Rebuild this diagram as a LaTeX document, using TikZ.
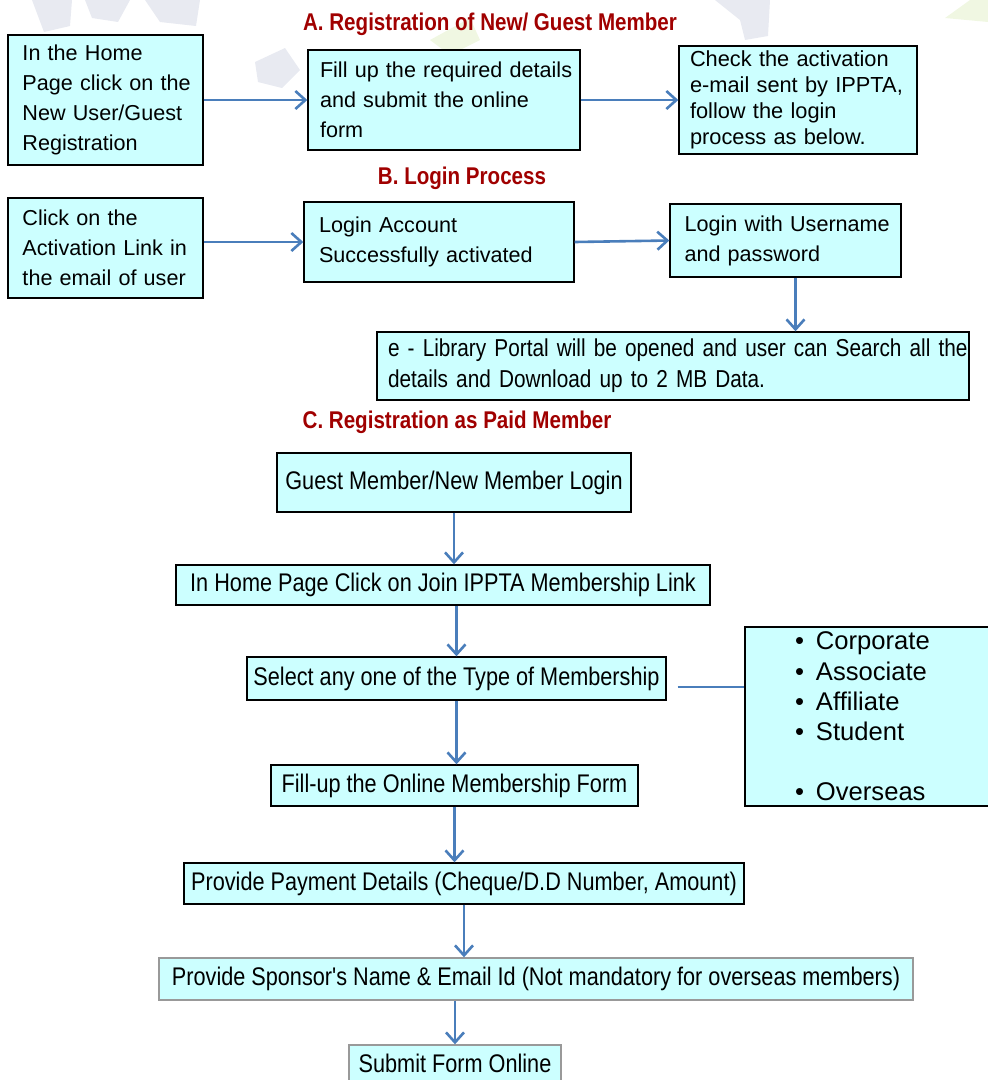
\documentclass[tikz,border=0pt]{standalone}
\usepackage{fontspec}
\setmainfont{Liberation Sans}
\newfontfamily\narrowfont[FakeStretch=0.85]{Liberation Sans}
\usetikzlibrary{arrows.meta, positioning, calc}
\definecolor{boxfill}{RGB}{204,255,255}
\definecolor{linkblue}{RGB}{74,126,187}
\definecolor{headred}{RGB}{160,0,0}
\definecolor{ghost}{RGB}{232,234,241}
\definecolor{ghostgreen}{RGB}{240,247,226}
\newcommand{\memitem}[1]{\makebox[21pt][l]{\textbullet}#1}
\hyphenpenalty=10000

\begin{document}
\begin{tikzpicture}[
          x=1pt, y=-1pt,
          stepbox/.style={draw=black, line width=1.4pt, fill=boxfill, inner sep=0pt},
          ablock/.style={stepbox, align=left, font=\fontsize{21.6}{30}\selectfont},
          cblock/.style={stepbox, align=center, font=\narrowfont\fontsize{25.5}{31}\selectfont},
          greybox/.style={draw=black!40},
          heading/.style={text=headred, font=\narrowfont\bfseries\fontsize{24.2}{28}\selectfont},
          link/.style={draw=linkblue, line width=2.6pt, -{Straight Barb[length=10pt,width=18pt]}},
          >=Stealth
        ]
        \useasboundingbox (0,0) rectangle (988,1080);
        % faint marks of the page background
        \fill[ghost] (32,0) -- (72,0) -- (70,26) -- (44,32) -- cycle;
        \fill[ghost] (85,0) -- (130,0) -- (118,22) -- (92,18) -- cycle;
        \fill[ghost] (145,0) -- (200,0) -- (196,26) -- (160,22) -- cycle;
        \fill[ghost] (255,62) -- (285,48) -- (300,70) -- (282,88) -- (258,82) -- cycle;
        \fill[ghost] (715,0) -- (770,0) -- (768,36) -- (745,40) -- (740,20) -- cycle;
        \fill[ghostgreen] (430,40) -- (470,18) -- (480,40) -- (450,55) -- cycle;
        \fill[ghostgreen] (945,18) -- (970,0) -- (988,0) -- (988,22) -- cycle;

        % A. registration of a new or guest member
        \node[heading] (titleA) at (490,24) {A. Registration of New/ Guest Member};
        \node[ablock, minimum width=195pt, minimum height=130pt, text width=166pt] (homepage) at (105.5,100)
          {In the Home\\ \mbox{Page click on the}\\ New User/Guest\\ Registration};
        \node[ablock, minimum width=272pt, minimum height=100pt, text width=248pt] (fillform) at (444,100)
          {\mbox{Fill up the required details}\\ and submit the online\\ form};
        \node[ablock, minimum width=238pt, minimum height=108pt, text width=216pt,
              font=\fontsize{21.8}{25.8}\selectfont] (checkmail) at (798,100)
          {Check the activation\\ \mbox{e-mail sent by IPPTA,}\\ follow the login\\ process as below.};
        \draw[link] (homepage.east) -- (fillform.west);
        \draw[link] (fillform.east) -- (checkmail.west);

        % B. login process
        \node[heading] (titleB) at (462,178) {B. Login Process};
        \node[ablock, minimum width=195pt, minimum height=100pt, text width=166pt] (actlink) at (105.5,248)
          {Click on the\\ \mbox{Activation Link in}\\ \mbox{the email of user}};
        \node[ablock, minimum width=270pt, minimum height=80pt, text width=240pt] (activated) at (439,242)
          {Login Account\\ Successfully activated};
        \node[ablock, minimum width=231pt, minimum height=73pt, text width=202pt] (loginuser) at (785.5,240.5)
          {\mbox{Login with Username}\\ and password};
        \node[ablock, minimum width=592pt, minimum height=68pt, text width=570pt,
              font=\narrowfont\fontsize{24.45}{31}\selectfont] (elibrary) at (673,366)
          {\mbox{e - Library Portal will be opened and user can Search all the}\\ details and Download up to 2 MB Data.};
        \draw[link] (actlink.east |- activated.west) -- (activated.west);
        \draw[link] (activated.east) -- (loginuser.west);
        \draw[link] ([xshift=10pt]loginuser.south) -- ([xshift=10pt]loginuser.south |- elibrary.north);

        % C. registration as paid member
        \node[heading] (titleC) at (457,422) {C. Registration as Paid Member};
        \node[cblock, minimum width=354pt, minimum height=59pt] (guestlogin) at (454,482.5)
          {Guest Member/New Member Login};
        \node[cblock, minimum width=534pt, minimum height=40pt] (joinlink) at (443,585)
          {In Home Page Click on Join IPPTA Membership Link};
        \node[cblock, minimum width=419pt, minimum height=43pt] (selecttype) at (456.5,678.5)
          {Select any one of the Type of Membership};
        \node[stepbox, minimum width=250pt, minimum height=179pt, text width=150pt, align=left,
              font=\fontsize{25.6}{30.2}\selectfont] (types) at (870,716.5)
          {\memitem{Corporate}\\ \memitem{Associate}\\ \memitem{Affiliate}\\ \memitem{Student}\\[30.2pt] \memitem{Overseas}};
        \node[cblock, minimum width=367pt, minimum height=41pt] (onlineform) at (454.5,785.5)
          {Fill-up the Online Membership Form};
        \node[cblock, minimum width=560pt, minimum height=41pt] (payment) at (464,883.5)
          {Provide Payment Details (Cheque/D.D Number, Amount)};
        \node[cblock, greybox, minimum width=754pt, minimum height=42pt] (sponsor) at (536,979)
          {Provide Sponsor's Name \& Email Id (Not mandatory for overseas members)};
        \node[cblock, greybox, minimum width=212pt, minimum height=36pt] (submit) at (455,1063)
          {Submit Form Online};

        \draw[link] (guestlogin.south) -- (guestlogin.south |- joinlink.north);
        \draw[link] (selecttype.north |- joinlink.south) -- (selecttype.north);
        \draw[link] (selecttype.south) -- (selecttype.south |- onlineform.north);
        \draw[link] (onlineform.south) -- (onlineform.south |- payment.north);
        \draw[link] (payment.south) -- (payment.south |- sponsor.north);
        \draw[link] (submit.north |- sponsor.south) -- (submit.north);
        \draw[draw=linkblue, line width=2pt] ([shift={(11pt,-8pt)}]selecttype.east)
          -- ([yshift=-8pt]selecttype.east -| types.west);
\end{tikzpicture}
\end{document}
